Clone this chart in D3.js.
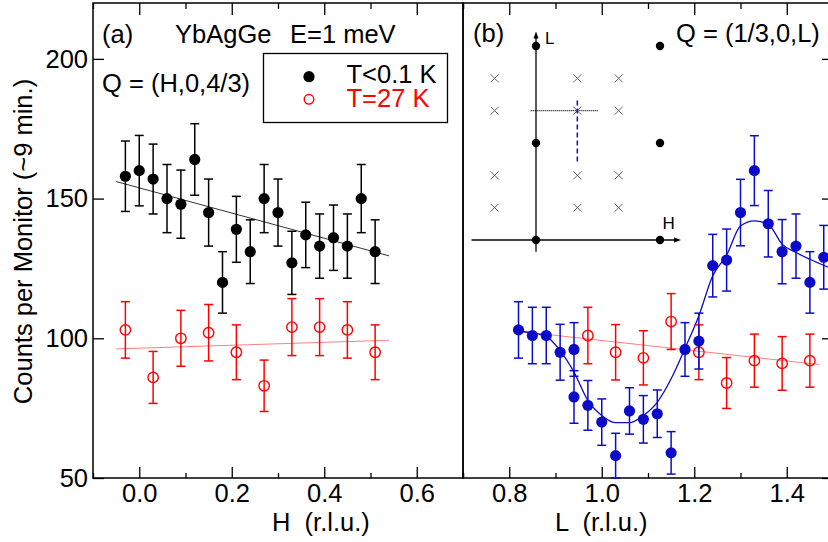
<!DOCTYPE html>
<html>
<head>
<meta charset="utf-8">
<script src="https://cdn.jsdelivr.net/npm/d3@7"></script>
<style>
  html, body { margin: 0; padding: 0; background: #fff; }
  svg { display: block; font-family: "Liberation Sans", Arial, Helvetica, sans-serif; }
  text { white-space: pre; }
</style>
</head>
<body>
<svg id="chart" width="828" height="542"></svg>
<script>
// ---- panel (a): Q = (H,0,4/3) scan ----
var H_COLD = [-0.03, 0.00, 0.03, 0.06, 0.09, 0.12, 0.15, 0.18, 0.21, 0.24, 0.27, 0.30, 0.33, 0.36, 0.39, 0.42, 0.45, 0.48, 0.51];
var COLD_A = [158, 160, 157, 150, 148, 164, 145, 120, 139, 131, 150, 145, 127, 137, 133, 136, 133, 150, 131];
var COLD_A_ERR = [12.6, 12.6, 12.5, 12.2, 12.2, 12.8, 12.0, 11.0, 11.8, 11.4, 12.2, 12.0, 11.3, 11.7, 11.5, 11.7, 11.5, 12.2, 11.4];
var H_WARM = [-0.03, 0.03, 0.09, 0.15, 0.21, 0.27, 0.33, 0.39, 0.45, 0.51];
var WARM_A = [103, 86, 100, 102, 95, 83, 104, 104, 103, 95];
var WARM_A_ERR = [10.1, 9.3, 10.0, 10.1, 9.8, 9.2, 10.2, 10.2, 10.1, 9.8];
var FIT_A_H = [-0.05, 0.54];
var FIT_A_COLD = [156.1, 129.5];
var FIT_A_WARM = [96.2, 99.3];

// ---- panel (b): Q = (1/3,0,L) scan ----
var L_COLD = [0.82, 0.85, 0.88, 0.91, 0.94, 0.94, 0.97, 1.00, 1.03, 1.06, 1.09, 1.12, 1.15, 1.18, 1.21, 1.24, 1.27, 1.30, 1.33, 1.36, 1.39, 1.42, 1.45, 1.48];
var COLD_B = [103, 101, 101, 95, 96, 79, 76, 70, 58, 74, 71, 73, 59, 96, 99, 126, 128, 145, 160, 141, 131, 133, 120, 129];
var COLD_B_ERR = [10.1, 10.1, 10.1, 10.0, 9.6, 9.4, 8.9, 8.3, 8.0, 8.3, 8.5, 8.5, 7.6, 9.6, 10.0, 11.2, 11.1, 11.9, 12.5, 11.9, 11.5, 11.5, 11.0, 11.4];
var L_WARM = [0.97, 1.03, 1.09, 1.15, 1.21, 1.27, 1.33, 1.39, 1.45];
var WARM_B = [101, 95, 93, 106, 95, 84, 92, 91, 92];
var WARM_B_ERR = [10.1, 9.9, 9.7, 10.0, 9.8, 9.1, 9.5, 9.6, 9.5];
var FIT_B_WARM_L = [0.81, 1.47];
var FIT_B_WARM = [102.7, 90.6];
var FIT_B_L = [0.81, 0.85, 0.88, 0.91, 0.94, 0.97, 1.00, 1.03, 1.06, 1.09, 1.12, 1.15, 1.18, 1.21, 1.24, 1.27, 1.30, 1.33, 1.36, 1.39, 1.42, 1.45, 1.49];
var FIT_B_COLD = [102.7, 101.9, 100.7, 95.6, 87.9, 77.7, 72.4, 69.8, 69.8, 72.4, 77.1, 85.5, 96.4, 108.1, 122.4, 129.8, 140.2, 142.0, 140.8, 133.7, 130.7, 128.3, 125.4];

// ---- axes ----
var Y_TICKS = [50, 100, 150, 200];
var H_TICKS = [0.0, 0.2, 0.4, 0.6];
var H_MINOR = [-0.1, 0.1, 0.3, 0.5, 0.7];
var L_TICKS = [0.8, 1.0, 1.2, 1.4];
var L_MINOR = [0.7, 0.9, 1.1, 1.3, 1.5];

// ---- inset: reciprocal-lattice sketch (H, L) ----
var NUC_H = [0, 0, 0, 1, 1, 1];
var NUC_L = [0, 1, 2, 0, 1, 2];
var MAG_H = [-1 / 3, 1 / 3, 2 / 3];
var MAG_L = [1 / 3, 2 / 3, 4 / 3, 5 / 3];
var SCAN_A_H = [-0.043, 0.5];   // at L = 4/3
var SCAN_B_L = [0.81, 1.46];    // at H = 1/3

(function () {
  'use strict';

  var BLUE = '#0c0cc8', RED = '#ff0000';
  var FS = 25.5;

  var svg = d3.select('#chart');
  svg.append('rect').attr('width', 828).attr('height', 542).attr('fill', '#fff');

  var y = d3.scaleLinear().domain([50, 220]).range([478, 3]);
  var xA = d3.scaleLinear().domain([-0.1, 0.7]).range([93, 463]);
  var xB = d3.scaleLinear().domain([0.7, 1.5]).range([463, 833]);

  function zip(a, b, c) {
    return a.map(function (v, i) { return { x: v, y: b[i], e: c ? c[i] : 0 }; });
  }

  function ticks(g, axis) {
    g.call(axis);
    g.select('.domain').remove();
    g.selectAll('.tick line').attr('stroke', '#000').attr('stroke-width', 1.3);
    g.selectAll('.tick text').attr('font-size', FS).attr('font-family', null).attr('fill', '#000');
  }

  function frame(x, labels) {
    var r = x.range();
    var bot = svg.append('g').attr('transform', 'translate(0,478)');
    ticks(bot, d3.axisBottom(x).tickValues(labels.major).tickSize(-11).tickPadding(6)
      .tickFormat(d3.format('.1f')));
    var botMinor = svg.append('g').attr('transform', 'translate(0,478)');
    ticks(botMinor, d3.axisBottom(x).tickValues(labels.minor).tickSize(-5).tickFormat(''));
    var top = svg.append('g').attr('transform', 'translate(0,3)');
    ticks(top, d3.axisTop(x).tickValues(labels.major).tickSize(-12).tickFormat(''));
    var topMinor = svg.append('g').attr('transform', 'translate(0,3)');
    ticks(topMinor, d3.axisTop(x).tickValues(labels.minor).tickSize(-6).tickFormat(''));
    svg.append('rect')
      .attr('x', r[0]).attr('y', 3).attr('width', r[1] - r[0]).attr('height', 475)
      .attr('fill', 'none').attr('stroke', '#000').attr('stroke-width', 1.5);
  }

  frame(xA, { major: H_TICKS, minor: H_MINOR });
  frame(xB, { major: L_TICKS, minor: L_MINOR });

  var left = svg.append('g').attr('transform', 'translate(93,0)');
  ticks(left, d3.axisLeft(y).tickValues(Y_TICKS).tickSize(-11).tickPadding(5));
  var right = svg.append('g').attr('transform', 'translate(833,0)');
  ticks(right, d3.axisRight(y).tickValues(Y_TICKS).tickSize(-11).tickFormat(''));

  function fitLine(x, xs, ys, color, width, curve) {
    var line = d3.line()
      .x(function (d) { return x(d.x); })
      .y(function (d) { return y(d.y); })
      .curve(curve || d3.curveLinear);
    svg.append('path').datum(zip(xs, ys))
      .attr('d', line).attr('fill', 'none')
      .attr('stroke', color).attr('stroke-width', width);
  }

  function series(x, pts, color, filled) {
    var g = svg.append('g').attr('stroke', color).attr('stroke-width', 1.5);
    var cap = 4.5;
    var eb = g.selectAll('g.eb').data(pts).enter().append('g').attr('class', 'eb');
    eb.append('line')
      .attr('x1', function (d) { return x(d.x); }).attr('x2', function (d) { return x(d.x); })
      .attr('y1', function (d) { return y(d.y - d.e); }).attr('y2', function (d) { return y(d.y + d.e); });
    eb.append('line')
      .attr('x1', function (d) { return x(d.x) - cap; }).attr('x2', function (d) { return x(d.x) + cap; })
      .attr('y1', function (d) { return y(d.y + d.e); }).attr('y2', function (d) { return y(d.y + d.e); });
    eb.append('line')
      .attr('x1', function (d) { return x(d.x) - cap; }).attr('x2', function (d) { return x(d.x) + cap; })
      .attr('y1', function (d) { return y(d.y - d.e); }).attr('y2', function (d) { return y(d.y - d.e); });
    g.selectAll('circle').data(pts).enter().append('circle')
      .attr('cx', function (d) { return x(d.x); })
      .attr('cy', function (d) { return y(d.y); })
      .attr('r', filled ? 5.6 : 5.2)
      .attr('fill', filled ? color : 'none')
      .attr('stroke-width', filled ? 0 : 1.4);
  }

  // panel (a)
  fitLine(xA, FIT_A_H, FIT_A_COLD, '#333', 1);
  fitLine(xA, FIT_A_H, FIT_A_WARM, '#ff8080', 1);
  series(xA, zip(H_COLD, COLD_A, COLD_A_ERR), '#000', true);
  series(xA, zip(H_WARM, WARM_A, WARM_A_ERR), RED, false);

  // panel (b)
  fitLine(xB, FIT_B_WARM_L, FIT_B_WARM, '#ff8080', 1);
  fitLine(xB, FIT_B_L, FIT_B_COLD, BLUE, 1.3, d3.curveMonotoneX);
  series(xB, zip(L_WARM, WARM_B, WARM_B_ERR), RED, false);
  series(xB, zip(L_COLD, COLD_B, COLD_B_ERR), BLUE, true);

  function text(x, yy, s, opts) {
    opts = opts || {};
    return svg.append('text').attr('x', x).attr('y', yy)
      .attr('font-size', opts.size || FS)
      .attr('fill', opts.color || '#000')
      .attr('text-anchor', opts.anchor || 'start')
      .attr('xml:space', 'preserve')
      .text(s);
  }

  text(102, 42.5, '(a)');
  text(175, 42.5, 'YbAgGe');
  text(290, 42.5, 'E=1 meV');
  text(102, 92, 'Q = (H,0,4/3)');
  text(473, 42, '(b)');
  text(676, 42, 'Q = (1/3,0,L)');
  text(272, 531, 'H  (r.l.u.)');
  text(555, 531, 'L  (r.l.u.)');
  svg.append('text')
    .attr('transform', 'translate(31.5,241.5) rotate(-90)')
    .attr('text-anchor', 'middle').attr('font-size', FS)
    .text('Counts per Monitor (~9 min.)');

  // legend
  svg.append('rect').attr('x', 263.5).attr('y', 53.5).attr('width', 184).attr('height', 69)
    .attr('fill', '#fff').attr('stroke', '#000').attr('stroke-width', 1.3);
  svg.append('circle').attr('cx', 309).attr('cy', 76.7).attr('r', 5.6).attr('fill', '#000');
  svg.append('circle').attr('cx', 309).attr('cy', 99.3).attr('r', 4.8)
    .attr('fill', 'none').attr('stroke', RED).attr('stroke-width', 1.4);
  text(346.5, 83.3, 'T<0.1 K');
  text(346.5, 107.3, 'T=27 K', { color: RED });

  // inset
  var hI = d3.scaleLinear().domain([0, 1]).range([536, 660]);
  var lI = d3.scaleLinear().domain([0, 2]).range([240, 46]);
  var ins = svg.append('g');

  ins.append('line').attr('x1', hI(-0.52)).attr('x2', hI(1.13))
    .attr('y1', lI(0)).attr('y2', lI(0)).attr('stroke', '#000').attr('stroke-width', 1.3);
  ins.append('line').attr('x1', hI(0)).attr('x2', hI(0))
    .attr('y1', lI(-0.12)).attr('y2', lI(2.1)).attr('stroke', '#000').attr('stroke-width', 1.3);
  var tipX = hI(1.17), tipY = lI(2.15);
  ins.append('path').attr('fill', '#000')
    .attr('d', 'M' + tipX + ',' + lI(0) + 'l-7,-2.5v5z');
  ins.append('path').attr('fill', '#000')
    .attr('d', 'M' + hI(0) + ',' + tipY + 'l-2.5,7h5z');
  text(hI(0) + 9, 43.5, 'L', { size: 17 });
  text(hI(1) + 2.5, 229, 'H', { size: 17 });

  var crosses = [];
  MAG_H.forEach(function (h) { MAG_L.forEach(function (l) { crosses.push([h, l]); }); });
  ins.selectAll('path.x').data(crosses).enter().append('path').attr('class', 'x')
    .attr('d', function (d) {
      var cx = hI(d[0]), cy = lI(d[1]), s = 4;
      return 'M' + (cx - s) + ',' + (cy - s) + 'L' + (cx + s) + ',' + (cy + s) +
        'M' + (cx - s) + ',' + (cy + s) + 'L' + (cx + s) + ',' + (cy - s);
    })
    .attr('stroke', '#555').attr('stroke-width', 0.9).attr('fill', 'none');

  ins.append('line').attr('x1', hI(SCAN_A_H[0])).attr('x2', hI(SCAN_A_H[1]))
    .attr('y1', lI(4 / 3)).attr('y2', lI(4 / 3))
    .attr('stroke', '#000').attr('stroke-width', 1.2).attr('stroke-dasharray', '1,1');
  ins.append('line').attr('x1', hI(1 / 3)).attr('x2', hI(1 / 3))
    .attr('y1', lI(SCAN_B_L[0])).attr('y2', lI(SCAN_B_L[1]))
    .attr('stroke', BLUE).attr('stroke-width', 1.5).attr('stroke-dasharray', '5,3');

  ins.selectAll('circle').data(NUC_H).enter().append('circle')
    .attr('cx', function (d) { return hI(d); })
    .attr('cy', function (d, i) { return lI(NUC_L[i]); })
    .attr('r', 4.2).attr('fill', '#000');
})();
</script>
</body>
</html>
